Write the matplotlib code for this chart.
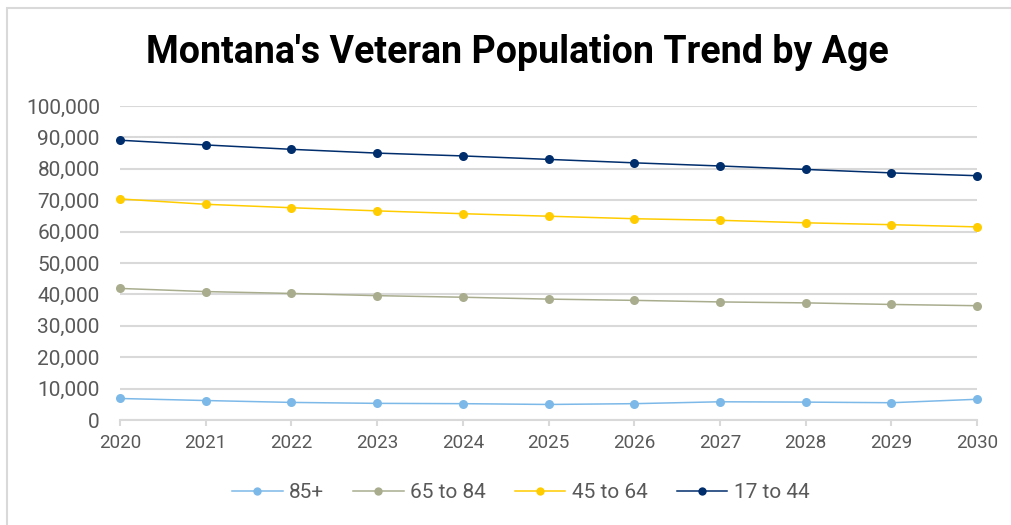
import matplotlib
matplotlib.use("Agg")
import matplotlib.pyplot as plt
from matplotlib.patches import Rectangle
from matplotlib.ticker import FuncFormatter

years = [2020, 2021, 2022, 2023, 2024, 2025, 2026, 2027, 2028, 2029, 2030]
age_85_plus = [6850, 6200, 5600, 5300, 5200, 4950, 5200, 5800, 5700, 5500, 6600]
age_65_84 = [41900, 40900, 40300, 39600, 39100, 38500, 38100, 37600, 37300, 36800, 36400]
age_45_64 = [70400, 68700, 67600, 66600, 65700, 64900, 64100, 63600, 62800, 62200, 61500]
age_17_44 = [89100, 87600, 86200, 85000, 84100, 83000, 81900, 80900, 79800, 78700, 77800]
series_labels = ["85+", "65 to 84", "45 to 64", "17 to 44"]
series_colors = ["#7DB9E8", "#A9AD8E", "#FFCC00", "#002D6C"]
title = "Montana's Veteran Population Trend by Age"

plt.rcParams['font.family'] = ['Roboto', 'DejaVu Sans']

W, H = 1011, 525
fig = plt.figure(figsize=(W / 100, H / 100), dpi=100)
ax = fig.add_axes([120 / W, 1 - 420 / H, (977 - 120) / W, (420 - 106) / H])

grid_c = "#D9D9D9"
text_c = "#595959"

for vals, lab, col in zip([age_85_plus, age_65_84, age_45_64, age_17_44], series_labels, series_colors):
    ax.plot(years, vals, color=col, lw=1.1, marker='o', markersize=6.5,
            markeredgewidth=0, label=lab, clip_on=False, zorder=3)

ax.set_xlim(2020, 2030)
ax.set_ylim(0, 100000)
ax.set_xticks(years)
ax.set_yticks(range(0, 100001, 10000))
ax.yaxis.set_major_formatter(FuncFormatter(lambda v, p: f"{int(v):,}"))
ax.grid(axis='y', color=grid_c, lw=1.5, zorder=0)
ax.set_axisbelow(True)
for s in ['top', 'right', 'left']:
    ax.spines[s].set_visible(False)
ax.spines['bottom'].set_color(grid_c)
ax.spines['bottom'].set_linewidth(1.5)
ax.tick_params(axis='y', length=0, pad=14.5, labelsize=15, labelcolor=text_c)
ax.tick_params(axis='x', length=4, width=1.5, color=grid_c, pad=6, labelsize=13.5, labelcolor=text_c)

fig.text(517 / W, 1 - 63 / H, title, ha='center', va='baseline',
         fontsize=27, fontweight='bold', color='black')

leg_handles = []
for col, lab in zip(series_colors, series_labels):
    h, = ax.plot([], [], color=col, lw=1.1, marker='o', markersize=6, markeredgewidth=0, label=lab)
    leg_handles.append(h)
fig.legend(handles=leg_handles, labels=series_labels, loc='center', ncol=4,
           bbox_to_anchor=(520.5 / W, 1 - 493 / H), frameon=False,
           fontsize=15, labelcolor=text_c, handlelength=2.43, handletextpad=0.3,
           columnspacing=1.4, borderpad=0)

fig.patches.append(Rectangle((7 / W, -0.1), 1.2, 1.1 - 8 / H, transform=fig.transFigure,
                             fill=False, edgecolor=grid_c, lw=1.5))

fig.savefig("out.png", dpi=100, facecolor='white')
